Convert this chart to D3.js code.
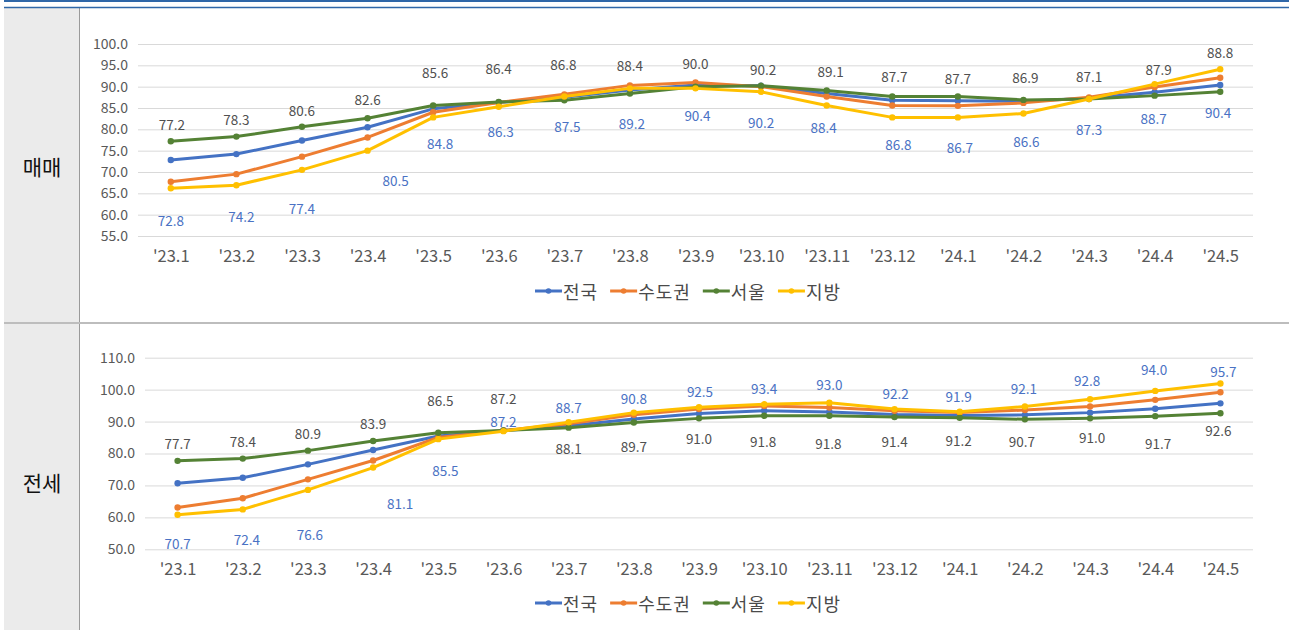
<!DOCTYPE html>
<html><head><meta charset="utf-8">
<script src="https://cdn.jsdelivr.net/npm/d3@7"></script>
<style>
html,body{margin:0;padding:0;background:#fff;}
svg{display:block;font-family:"Noto Sans CJK KR","Noto Sans",sans-serif;}
</style></head>
<body><svg id="c" width="1289" height="630"></svg>
<script>
// ---- data ----
const categories = ["'23.1","'23.2","'23.3","'23.4","'23.5","'23.6","'23.7","'23.8","'23.9","'23.10","'23.11","'23.12","'24.1","'24.2","'24.3","'24.4","'24.5"];
const seriesNames = ["전국","수도권","서울","지방"];

// 매매
const saleNation = [72.8,74.2,77.4,80.5,84.8,86.3,87.5,89.2,90.4,90.2,88.4,86.8,86.7,86.6,87.3,88.7,90.4];
const saleCapital = [67.7,69.5,73.6,78.1,84.0,86.3,88.2,90.3,91.0,90.0,87.7,85.6,85.5,86.2,87.5,89.9,92.1];
const saleSeoul = [77.2,78.3,80.6,82.6,85.6,86.4,86.8,88.4,90.0,90.2,89.1,87.7,87.7,86.9,87.1,87.9,88.8];
const saleLocal = [66.2,66.9,70.5,75.0,82.8,85.3,87.7,89.6,89.6,88.8,85.6,82.8,82.8,83.7,87.1,90.6,94.1];
const saleTicks = [55,60,65,70,75,80,85,90,95,100];

// 전세
const rentNation = [70.7,72.4,76.6,81.1,85.5,87.2,88.7,90.8,92.5,93.4,93.0,92.2,91.9,92.1,92.8,94.0,95.7];
const rentCapital = [63.1,66.0,71.9,77.8,85.0,87.2,89.3,92.1,93.9,94.9,94.4,93.4,92.8,93.6,94.7,96.8,99.2];
const rentSeoul = [77.7,78.4,80.9,83.9,86.5,87.2,88.1,89.7,91.0,91.8,91.8,91.4,91.2,90.7,91.0,91.7,92.6];
const rentLocal = [60.8,62.5,68.6,75.6,84.5,87.0,89.8,92.8,94.5,95.4,95.9,93.9,93.1,94.7,97.0,99.6,101.9];
const rentTicks = [50,60,70,80,90,100,110];

// ---- layout (label nudges, px) ----
const saleSeoulDy = [-17,-18,-17,-19,-33,-34,-36,-28,-24,-17,-20,-20,-18,-23,-23,-27,-40];
const saleSeoulDx = [1,0,0,0,2,0,-1,0,0,2,4,2,0,2,0,4,0];
const saleNationDy = [60,62,68,53,34,29,29,33,30,36,34,44,46,40,31,26,27];
const saleNationDx = [0,5,0,28,7,2,3,2,2,0,-3,6,2,3,0,-1,-2];
const rentSeoulDy = [-18,-18,-18,-18,-33,-33,20,23,20,25,27,24,22,22,19,27,17];
const rentSeoulDx = [0,0,0,0,2,0,0,0,0,-1,-1,0,-1,-3,2,3,-2];
const rentNationDy = [60,61,70,53,34,-10,-19,-21,-23,-23,-28,-22,-19,-27,-33,-40,-32];
const rentNationDx = [0,4,2,27,7,0,0,0,1,0,0,1,-1,-1,-3,-1,3];

const colors = ["#4472C4","#ED7D31","#548235","#FFC000"];
const svg = d3.select("#c");

// frame
svg.append("rect").attr("x",4).attr("y",8).attr("width",75).attr("height",622).attr("fill","#ebebeb");
svg.append("line").attr("x1",79.5).attr("x2",79.5).attr("y1",8).attr("y2",630).attr("stroke","#9a9a9a").attr("stroke-width",1);
svg.append("line").attr("x1",4).attr("x2",1289).attr("y1",1).attr("y2",1).attr("stroke","#2f67a8").attr("stroke-width",2);
svg.append("line").attr("x1",4).attr("x2",1289).attr("y1",7.5).attr("y2",7.5).attr("stroke","#2f67a8").attr("stroke-width",1.5);
svg.append("line").attr("x1",4).attr("x2",1289).attr("y1",323).attr("y2",323).attr("stroke","#bdbdbd").attr("stroke-width",2);

svg.append("text").attr("x",42).attr("y",166).attr("text-anchor","middle").attr("dominant-baseline","central")
  .attr("font-size",21).attr("fill","#111").text("매매");
svg.append("text").attr("x",42).attr("y",482).attr("text-anchor","middle").attr("dominant-baseline","central")
  .attr("font-size",21).attr("fill","#111").text("전세");

function drawChart(cfg){
  const g = svg.append("g");
  const x = d3.scalePoint().domain(categories).range([cfg.left, 1253]).padding(0.5);
  const y = d3.scaleLinear().domain(cfg.domain).range([cfg.bottom, cfg.top]);

  // grid
  const yAxis = d3.axisLeft(y).tickValues(cfg.ticks).tickSize(-(1253-cfg.left)).tickPadding(10).tickFormat(d3.format(".1f"));
  const ga = g.append("g").attr("transform",`translate(${cfg.left},0)`).call(yAxis);
  ga.select(".domain").remove();
  ga.selectAll(".tick line").attr("stroke","#d9d9d9").attr("stroke-width",1);
  ga.selectAll(".tick text").attr("fill","#595959").attr("font-size",14).attr("font-family","'Noto Sans CJK KR',sans-serif");

  const xAxis = d3.axisBottom(x).tickSize(0).tickPadding(0);
  const gx = g.append("g").attr("transform",`translate(0,${cfg.xLabelY})`).call(xAxis);
  gx.select(".domain").remove();
  gx.selectAll(".tick text").attr("fill","#595959").attr("font-size",16.5).attr("dy","0.35em").attr("font-family","'Noto Sans CJK KR',sans-serif");

  const line = d3.line().x((d,i)=>x(categories[i])).y(d=>y(d));
  cfg.series.forEach((s,k)=>{
    g.append("path").datum(s).attr("d",line).attr("fill","none").attr("stroke",colors[k]).attr("stroke-width",3).attr("stroke-linejoin","round");
    g.selectAll(null).data(s).enter().append("circle")
      .attr("cx",(d,i)=>x(categories[i])).attr("cy",d=>y(d)).attr("r",3.2).attr("fill",colors[k]);
  });

  // data labels
  function labels(vals, dx, dy, color){
    g.selectAll(null).data(vals).enter().append("text")
      .attr("x",(d,i)=>x(categories[i])+dx[i]).attr("y",(d,i)=>y(d)+dy[i])
      .attr("text-anchor","middle").attr("dominant-baseline","central")
      .attr("font-size",13.5).attr("fill",color).text(d=>d.toFixed(1));
  }
  labels(cfg.seoul, cfg.seoulDx, cfg.seoulDy, "#505050");
  labels(cfg.nation, cfg.nationDx, cfg.nationDy, "#4a72c4");

  // legend
  const lg = g.append("g");
  let cx = 535;
  seriesNames.forEach((n,k)=>{
    const it = lg.append("g").attr("transform",`translate(${cx},${cfg.legendY})`);
    it.append("line").attr("x1",0).attr("x2",27).attr("y1",0).attr("y2",0).attr("stroke",colors[k]).attr("stroke-width",3);
    it.append("circle").attr("cx",13.5).attr("cy",0).attr("r",2.8).attr("fill",colors[k]);
    const t = it.append("text").attr("x",28).attr("y",0).attr("dominant-baseline","central")
      .attr("font-size",18).attr("letter-spacing",1).attr("fill","#4a4a4a").text(n);
    const w = t.node().getComputedTextLength();
    cx += 28 + w + 12;
  });
}

drawChart({
  left:138, top:44, bottom:236, domain:[55,100], ticks:saleTicks, xLabelY:256, legendY:291,
  series:[saleNation,saleCapital,saleSeoul,saleLocal],
  seoul:saleSeoul, seoulDx:saleSeoulDx, seoulDy:saleSeoulDy,
  nation:saleNation, nationDx:saleNationDx, nationDy:saleNationDy
});
drawChart({
  left:145, top:357.7, bottom:549.3, domain:[50,110], ticks:rentTicks, xLabelY:569, legendY:603,
  series:[rentNation,rentCapital,rentSeoul,rentLocal],
  seoul:rentSeoul, seoulDx:rentSeoulDx, seoulDy:rentSeoulDy,
  nation:rentNation, nationDx:rentNationDx, nationDy:rentNationDy
});
</script></body></html>
